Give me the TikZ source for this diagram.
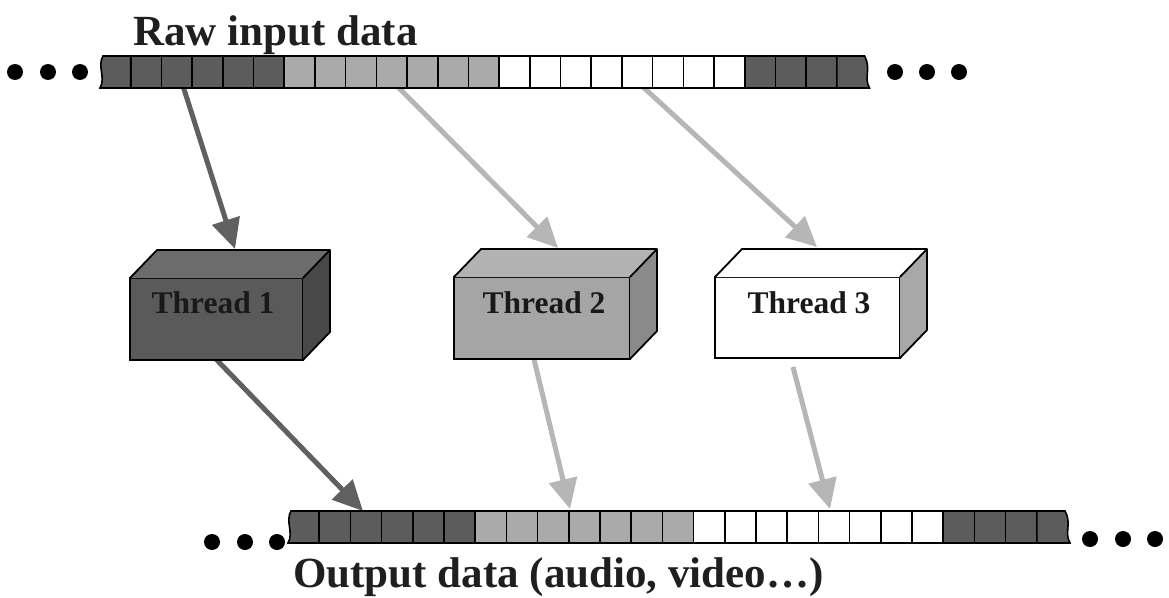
\documentclass[tikz,border=0pt]{standalone}
\usepackage{fontspec}
\setmainfont{Liberation Serif}
\usetikzlibrary{arrows.meta}
\definecolor{dk}{RGB}{92,92,92}
\definecolor{md}{RGB}{170,170,170}
\definecolor{arrdk}{RGB}{96,96,96}
\definecolor{arrlt}{RGB}{182,182,182}
\definecolor{bxAfront}{RGB}{90,90,90}
\definecolor{bxAtop}{RGB}{108,108,108}
\definecolor{bxAside}{RGB}{72,72,72}
\definecolor{bxBfront}{RGB}{165,165,165}
\definecolor{bxBtop}{RGB}{178,178,178}
\definecolor{bxBside}{RGB}{138,138,138}
\definecolor{bxCside}{RGB}{168,168,168}
\newcommand\databar[3]{% #1 x0, #2 ytop, #3 cell width
  \foreach \i in {0,...,24} {
    \pgfmathsetmacro\xa{#1+\i*#3}
    \pgfmathsetmacro\xb{#1+(\i+1)*#3}
    \pgfmathsetmacro\yb{#2+32}
    \ifnum\i<6 \def\cc{dk}\else\ifnum\i<13 \def\cc{md}\else\ifnum\i<21 \def\cc{white}\else\def\cc{dk}\fi\fi\fi
    \ifnum\i=0
      \draw[cellst, fill=\cc] (\xb,#2) -- (\xa+3,#2) .. controls (\xa-3,#2+10) and (\xa+6,\yb-10) .. (\xa,\yb) -- (\xb,\yb) -- cycle;
    \else\ifnum\i=24
      \draw[cellst, fill=\cc] (\xa,#2) -- (\xb-3,#2) .. controls (\xb+4,#2+12) and (\xb-4,\yb-10) .. (\xb+2,\yb) -- (\xa,\yb) -- cycle;
    \else
      \draw[cellst, fill=\cc] (\xa,#2) rectangle (\xb,\yb);
    \fi\fi
  }
}
\newcommand\cube[4]{% #1 name, #2 front colour, #3 top colour, #4 side colour
  \fill[#3] (#1.north west) -- ++(27,-28) -- ([xshift=27pt,yshift=28pt]#1.north east) -- (#1.north east) -- cycle;
  \fill[#4] (#1.north east) -- ++(27,-28) -- ([xshift=27pt,yshift=28pt]#1.south east) -- (#1.south east) -- cycle;
  \draw[boxline] (#1.north west) -- ++(27,-28) -- ([xshift=27pt,yshift=28pt]#1.north east) -- ([xshift=27pt,yshift=28pt]#1.south east) -- (#1.south east);
  \draw[boxline] (#1.north east) -- ++(27,-28);
}
\begin{document}
\begin{tikzpicture}[x=1pt,y=-1pt,
  cellst/.style={draw=black, line width=1.6pt, line join=miter},
  boxline/.style={draw=black, line width=1.8pt, line join=round},
  front/.style={draw=black, line width=1.8pt, rectangle, inner sep=0pt, outer sep=0pt},
  lbl/.style={anchor=base, inner sep=0pt, font=\fontsize{31.5}{36}\selectfont\bfseries, text=black!90},
  big/.style={anchor=base west, inner sep=0pt, font=\fontsize{43}{48}\selectfont\bfseries, text=black!88},
  dot/.style={fill=black},
  arrowdark/.style={draw=arrdk, line width=5pt, -{Triangle[width=28pt,length=30pt]}},
  arrowlight/.style={draw=arrlt, line width=5pt, -{Triangle[width=28pt,length=30pt]}}
]
\useasboundingbox (0,0) rectangle (1169,597);

% arrow end points
\coordinate (s1) at (183,86);  \coordinate (e1) at (235,249);
\coordinate (s2) at (397,86);  \coordinate (e2) at (558,248);
\coordinate (s3) at (642,86);  \coordinate (e3) at (817,247);
\coordinate (s4) at (212,355); \coordinate (e4) at (363,511);
\coordinate (s5) at (533,355); \coordinate (e5) at (570,509);
\coordinate (s6) at (793,367); \coordinate (e6) at (830,509);

% connectors
\draw[arrowdark]  (s1) -- (e1);
\draw[arrowlight] (s2) -- (e2);
\draw[arrowlight] (s3) -- (e3);
\draw[arrowdark]  (s4) -- (e4);
\draw[arrowlight] (s5) -- (e5);
\draw[arrowlight] (s6) -- (e6);

% bars
\databar{100}{56}{30.7}
\databar{288}{511}{31.2}

% dots
\fill[dot] (15,72) circle (8pt);
\fill[dot] (48,72) circle (8pt);
\fill[dot] (80,72) circle (8pt);
\fill[dot] (895,72) circle (8pt);
\fill[dot] (927,72) circle (8pt);
\fill[dot] (959,72) circle (8pt);
\fill[dot] (212,542) circle (8pt);
\fill[dot] (245,542) circle (8pt);
\fill[dot] (277,542) circle (8pt);
\fill[dot] (1090,539) circle (8pt);
\fill[dot] (1123,539) circle (8pt);
\fill[dot] (1155,539) circle (8pt);

% boxes
\node[front, fill=bxAfront, minimum width=173pt, minimum height=82pt] (t1) at (216.5,319) {};
\cube{t1}{bxAfront}{bxAtop}{bxAside}
\node[front, fill=bxBfront, minimum width=176pt, minimum height=82pt] (t2) at (542,318) {};
\cube{t2}{bxBfront}{bxBtop}{bxBside}
\node[front, fill=white, minimum width=185pt, minimum height=81pt] (t3) at (807.5,317.5) {};
\cube{t3}{white}{white}{bxCside}

\node[lbl] (l1) at (213,313) {Thread 1};
\node[lbl] (l2) at (544,313) {Thread 2};
\node[lbl] (l3) at (809,313) {Thread 3};

% titles
\node[big] (title) at (133,45) {Raw input data};
\node[big] (out) at (293,587) {Output data (audio, video…)};
\end{tikzpicture}
\end{document}
